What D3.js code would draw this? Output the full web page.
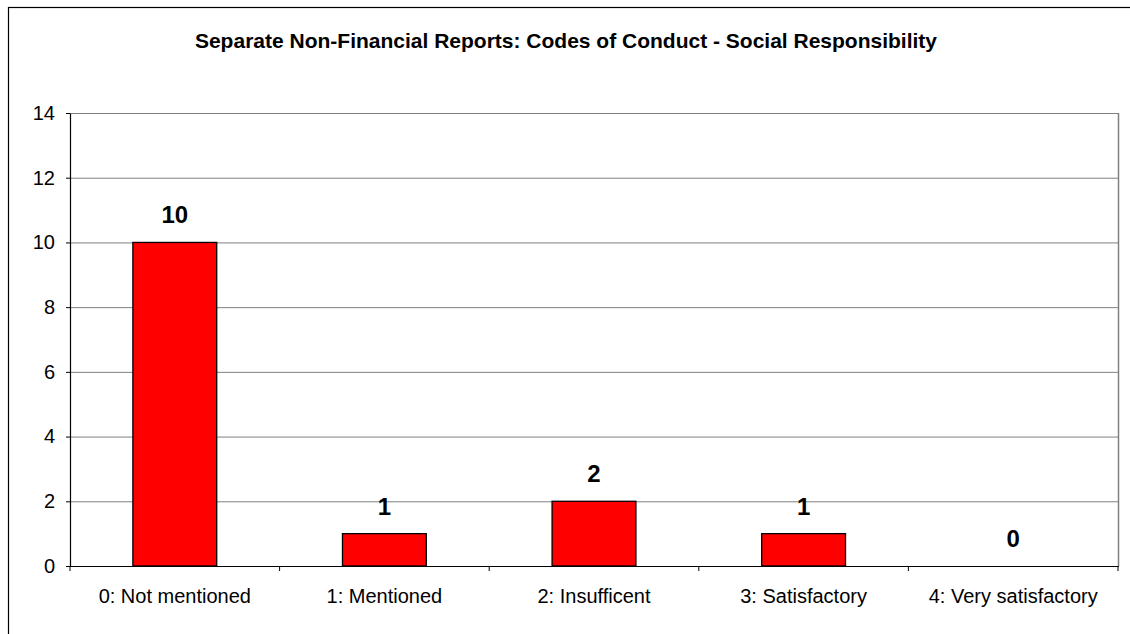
<!DOCTYPE html>
<html>
<head>
<meta charset="utf-8">
<script src="https://cdn.jsdelivr.net/npm/d3@7"></script>
<style>
  html, body { margin: 0; padding: 0; background: #fff; }
  svg { display: block; font-family: "Liberation Sans", Arial, sans-serif; }
</style>
</head>
<body>
<svg id="chart" width="1130" height="634"></svg>
<script>
// Chart data
const categories = ["0: Not mentioned", "1: Mentioned", "2: Insufficent", "3: Satisfactory", "4: Very satisfactory"];
const counts = [10, 1, 2, 1, 0];
const yTicks = [0, 2, 4, 6, 8, 10, 12, 14];
const title = "Separate Non-Financial Reports: Codes of Conduct - Social Responsibility";

const svg = d3.select("#chart");
const W = 1130, H = 634;

// Outer chart frame
svg.append("rect")
  .attr("x", 8.5).attr("y", 7.5)
  .attr("width", W + 10).attr("height", H + 10)
  .attr("fill", "#fff").attr("stroke", "#000").attr("stroke-width", 1.2);

const plot = { left: 70, right: 1118, top: 113, bottom: 566 };

const x = d3.scaleBand()
  .domain(categories)
  .range([plot.left, plot.right])
  .padding(0);

const y = d3.scaleLinear()
  .domain([0, 14])
  .range([plot.bottom, plot.top]);

// Title
svg.append("text")
  .attr("x", 566).attr("y", 48)
  .attr("text-anchor", "middle")
  .attr("font-weight", "bold")
  .attr("font-size", 21)
  .attr("fill", "#000")
  .text(title);

// Gridlines
svg.append("g")
  .selectAll("line")
  .data(yTicks.filter(d => d > 0))
  .join("line")
  .attr("x1", plot.left).attr("x2", plot.right)
  .attr("y1", d => y(d) + 0.5).attr("y2", d => y(d) + 0.5)
  .attr("stroke", "#808080").attr("stroke-width", 1);

// Right border of the plot area
svg.append("line")
  .attr("x1", plot.right + 0.5).attr("x2", plot.right + 0.5)
  .attr("y1", plot.top).attr("y2", plot.bottom)
  .attr("stroke", "#808080").attr("stroke-width", 1.5);

// Bars
const barW = x.bandwidth() * 0.4;
svg.append("g")
  .selectAll("rect")
  .data(categories.map((c, i) => ({ c, v: counts[i] })))
  .join("rect")
  .attr("x", d => x(d.c) + (x.bandwidth() - barW) / 2)
  .attr("y", d => y(d.v))
  .attr("width", barW)
  .attr("height", d => y(0) - y(d.v))
  .attr("fill", "#ff0000")
  .attr("stroke", "#000").attr("stroke-width", 1.3);

// Value labels
svg.append("g")
  .selectAll("text")
  .data(categories.map((c, i) => ({ c, v: counts[i] })))
  .join("text")
  .attr("x", d => x(d.c) + x.bandwidth() / 2)
  .attr("y", d => y(d.v) - 19)
  .attr("text-anchor", "middle")
  .attr("font-weight", "bold")
  .attr("font-size", 24)
  .attr("fill", "#000")
  .text(d => d.v);

// Y axis
const yAxis = svg.append("g")
  .attr("transform", `translate(${plot.left},0)`)
  .call(d3.axisLeft(y).tickValues(yTicks).tickSize(4).tickSizeOuter(0).tickPadding(11));
yAxis.select(".domain").attr("stroke", "#000").attr("stroke-width", 1.2);
yAxis.selectAll(".tick line").attr("stroke", "#000");
yAxis.selectAll(".tick text")
  .attr("font-size", 20)
  .attr("font-family", "Liberation Sans, Arial, sans-serif")
  .attr("fill", "#000");

// X axis with ticks at category boundaries
const xAxis = svg.append("g")
  .attr("transform", `translate(0,${plot.bottom})`);
xAxis.append("line")
  .attr("x1", plot.left).attr("x2", plot.right + 1)
  .attr("y1", 0.5).attr("y2", 0.5)
  .attr("stroke", "#000").attr("stroke-width", 1.2);
xAxis.selectAll("line.tick")
  .data(d3.range(categories.length + 1))
  .join("line")
  .attr("class", "tick")
  .attr("x1", i => plot.left + i * x.bandwidth())
  .attr("x2", i => plot.left + i * x.bandwidth())
  .attr("y1", 0).attr("y2", 5)
  .attr("stroke", "#000");
xAxis.selectAll("text")
  .data(categories)
  .join("text")
  .attr("x", d => x(d) + x.bandwidth() / 2)
  .attr("y", 37)
  .attr("text-anchor", "middle")
  .attr("font-size", 20)
  .attr("fill", "#000")
  .text(d => d);
</script>
</body>
</html>
